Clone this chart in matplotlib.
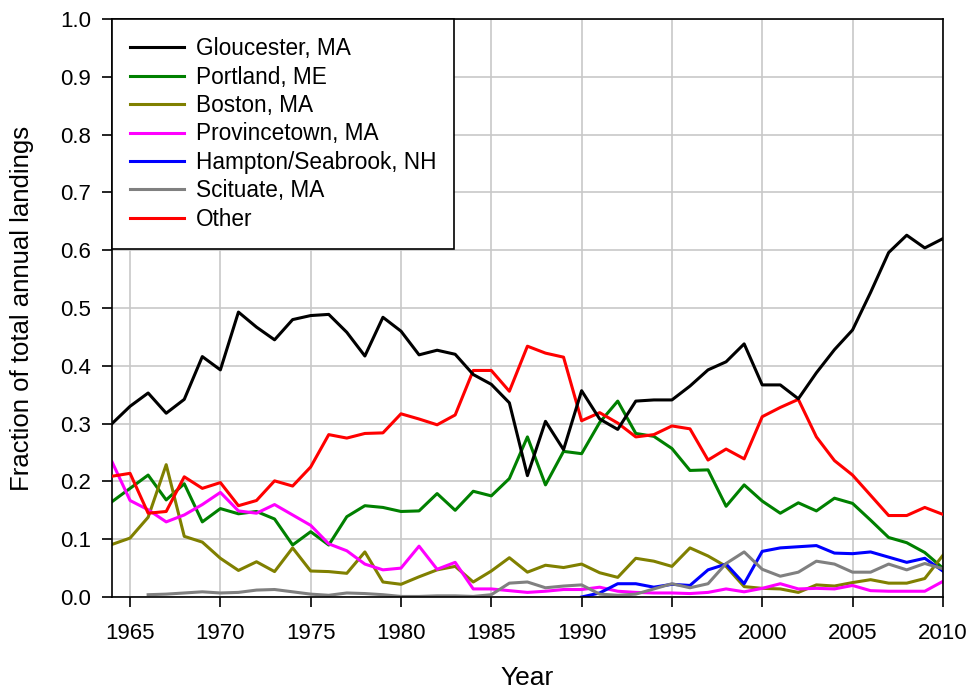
import numpy as np
import matplotlib.pyplot as plt

plt.rcParams['font.family'] = ['Liberation Sans', 'DejaVu Sans']

years = np.arange(1964, 2011)

gloucester = [0.300, 0.330, 0.353, 0.318, 0.342, 0.416, 0.393, 0.493, 0.467, 0.445,
              0.480, 0.487, 0.489, 0.458, 0.417, 0.484, 0.460, 0.419, 0.427, 0.420,
              0.385, 0.368, 0.336, 0.210, 0.304, 0.255, 0.357, 0.308, 0.290, 0.339,
              0.341, 0.341, 0.365, 0.393, 0.407, 0.438, 0.367, 0.367, 0.343, 0.388,
              0.428, 0.462, 0.527, 0.596, 0.626, 0.604, 0.620]
portland = [0.165, 0.188, 0.211, 0.168, 0.196, 0.130, 0.153, 0.144, 0.148, 0.135,
            0.090, 0.113, 0.090, 0.139, 0.158, 0.155, 0.148, 0.149, 0.179, 0.150,
            0.183, 0.175, 0.205, 0.277, 0.194, 0.252, 0.248, 0.302, 0.339, 0.283,
            0.278, 0.257, 0.219, 0.220, 0.157, 0.194, 0.166, 0.145, 0.163, 0.149,
            0.171, 0.162, 0.133, 0.103, 0.094, 0.077, 0.050]
boston = [0.091, 0.102, 0.138, 0.229, 0.105, 0.095, 0.067, 0.046, 0.061, 0.044,
          0.085, 0.045, 0.044, 0.041, 0.078, 0.026, 0.022, 0.035, 0.047, 0.053,
          0.026, 0.045, 0.068, 0.043, 0.055, 0.051, 0.057, 0.042, 0.034, 0.067,
          0.062, 0.053, 0.085, 0.071, 0.053, 0.018, 0.015, 0.014, 0.008, 0.021,
          0.019, 0.025, 0.030, 0.024, 0.024, 0.032, 0.072]
provincetown = [0.234, 0.167, 0.151, 0.130, 0.142, 0.160, 0.181, 0.149, 0.145, 0.160,
                0.142, 0.124, 0.092, 0.080, 0.057, 0.047, 0.050, 0.088, 0.048, 0.060,
                0.014, 0.014, 0.011, 0.008, 0.010, 0.013, 0.013, 0.017, 0.010, 0.008,
                0.007, 0.007, 0.006, 0.008, 0.014, 0.009, 0.015, 0.023, 0.014, 0.015,
                0.014, 0.020, 0.011, 0.010, 0.010, 0.010, 0.027]
other = [0.209, 0.214, 0.145, 0.148, 0.208, 0.188, 0.198, 0.158, 0.167, 0.201,
         0.192, 0.225, 0.281, 0.275, 0.283, 0.284, 0.317, 0.308, 0.298, 0.315,
         0.392, 0.392, 0.356, 0.434, 0.422, 0.415, 0.305, 0.319, 0.301, 0.277,
         0.281, 0.296, 0.291, 0.237, 0.256, 0.239, 0.312, 0.328, 0.342, 0.277,
         0.236, 0.211, 0.176, 0.141, 0.141, 0.155, 0.143]

hampton_years = np.arange(1990, 2011)
hampton = [0.000, 0.007, 0.023, 0.023, 0.017, 0.022, 0.020, 0.047, 0.057, 0.023,
           0.079, 0.085, 0.087, 0.089, 0.076, 0.075, 0.078, 0.069, 0.060, 0.067, 0.045]

scituate_years = np.arange(1966, 2011)
scituate = [0.004, 0.005, 0.007, 0.009, 0.007, 0.008, 0.012, 0.013, 0.009, 0.005,
            0.003, 0.007, 0.006, 0.004, 0.001, 0.001, 0.002, 0.002, 0.001, 0.004,
            0.024, 0.026, 0.016, 0.019, 0.021, 0.005, 0.003, 0.005, 0.014, 0.023,
            0.016, 0.023, 0.058, 0.078, 0.048, 0.036, 0.043, 0.062, 0.057, 0.043,
            0.043, 0.057, 0.047, 0.058, 0.049]

fig = plt.figure(figsize=(9.74, 6.93), dpi=100)
ax = fig.add_axes([0.115, 0.1385, 0.853, 0.834])

lw = 2.2
ax.plot(years, gloucester, color='black', lw=lw, label='Gloucester, MA', zorder=9)
ax.plot(years, portland, color='#008000', lw=lw, label='Portland, ME')
ax.plot(years, boston, color='#808000', lw=lw, label='Boston, MA')
ax.plot(years, provincetown, color='#ff00ff', lw=lw, label='Provincetown, MA')
ax.plot(hampton_years, hampton, color='#0000ff', lw=lw, label='Hampton/Seabrook, NH')
ax.plot(scituate_years, scituate, color='#808080', lw=lw, label='Scituate, MA')
ax.plot(years, other, color='#ff0000', lw=lw, label='Other', zorder=8)

ax.set_xlim(1964, 2010)
ax.set_ylim(0, 1.0)
ax.set_xticks(np.arange(1965, 2011, 5))
ax.set_yticks(np.arange(0, 1.01, 0.1))
ax.set_yticklabels([f'{v:.1f}' for v in np.arange(0, 1.01, 0.1)])
ax.grid(True, color='#c8c8c8', linewidth=1.2)
ax.set_axisbelow(True)
ax.tick_params(direction='out', length=7, width=1.2, labelsize=16)
ax.tick_params(axis='x', pad=12)
ax.tick_params(axis='y', pad=8)
for s in ax.spines.values():
    s.set_linewidth(1.2)

ax.set_xlabel('Year', size=19, va='center')
ax.set_ylabel('Fraction of total annual landings', size=18.5, va='center')
ax.xaxis.set_label_coords(0.5, -0.14)
ax.yaxis.set_label_coords(-0.108, 0.5)

leg = ax.legend(loc='upper left', borderaxespad=0, fontsize=16.3, fancybox=False,
                edgecolor='black', framealpha=1, handlelength=2.4, labelspacing=0.24,
                borderpad=0.8, handletextpad=0.5)
leg.get_frame().set_linewidth(1.2)
leg.set_zorder(20)

fig.savefig('out.png', dpi=100)
